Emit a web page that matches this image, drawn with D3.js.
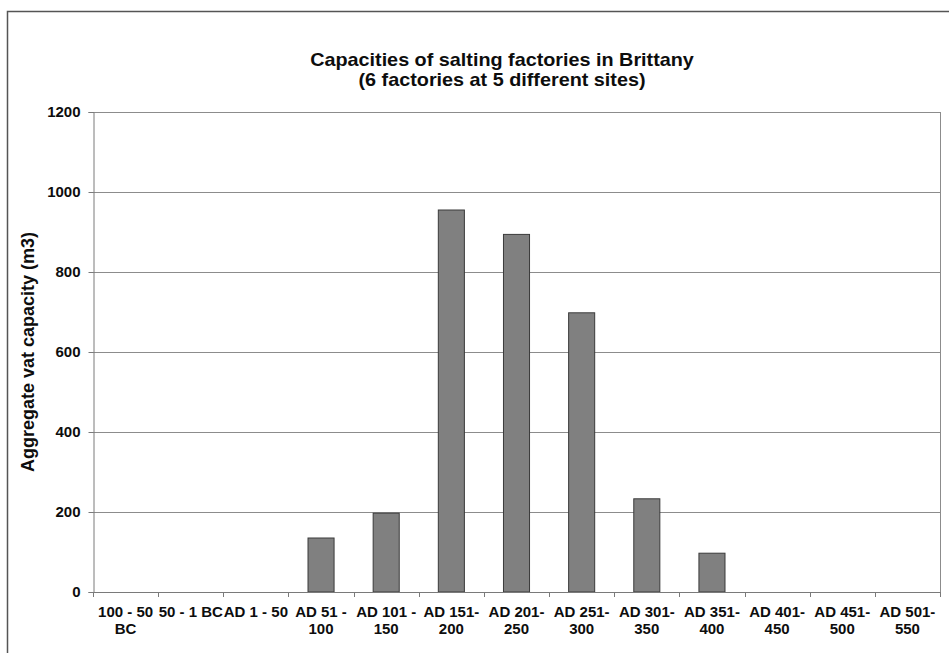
<!DOCTYPE html>
<html>
<head>
<meta charset="utf-8">
<script src="https://cdn.jsdelivr.net/npm/d3@7"></script>
<style>
  html, body { margin: 0; padding: 0; background: #fff; }
  svg { display: block; font-family: "Liberation Sans", Arial, sans-serif; }
</style>
</head>
<body>
<svg id="chart" width="949" height="653"></svg>
<script>
// Date ranges (two-line labels) and aggregate vat capacity per range
const periods = [
  ["100 - 50", "BC"], ["50 - 1 BC", ""], ["AD 1 - 50", ""],
  ["AD 51 -", "100"], ["AD 101 -", "150"], ["AD 151-", "200"],
  ["AD 201-", "250"], ["AD 251-", "300"], ["AD 301-", "350"],
  ["AD 351-", "400"], ["AD 401-", "450"], ["AD 451-", "500"],
  ["AD 501-", "550"]
];
const capacity = [0, 0, 0, 135, 197, 955, 894, 698, 233, 97, 0, 0, 0];
const yTicks = [0, 200, 400, 600, 800, 1000, 1200];
const titleLines = ["Capacities of salting factories in Brittany", "(6 factories at 5 different sites)"];
const yTitle = "Aggregate vat capacity (m3)";

const svg = d3.select("#chart");
const plot = { left: 93, right: 940, top: 112, bottom: 592 };
const ink = "#0d0d0d";

// Outer chart frame (only top and left edges fall inside the view)
svg.append("rect")
  .attr("x", 7.5).attr("y", 11.5)
  .attr("width", 960).attr("height", 660)
  .attr("fill", "#fff").attr("stroke", "#555").attr("stroke-width", 1.5);

const x = d3.scaleBand()
  .domain(d3.range(periods.length))
  .range([plot.left, plot.right])
  .paddingInner(0).paddingOuter(0);

const y = d3.scaleLinear().domain([0, 1200]).range([plot.bottom, plot.top]);

// Horizontal gridlines
svg.append("g")
  .selectAll("line")
  .data(yTicks.filter(d => d > 0))
  .join("line")
  .attr("x1", plot.left).attr("x2", plot.right)
  .attr("y1", d => Math.round(y(d)) + 0.5).attr("y2", d => Math.round(y(d)) + 0.5)
  .attr("stroke", "#8c8c8c").attr("stroke-width", 1);

// Right edge of plot area
svg.append("line")
  .attr("x1", plot.right + 0.5).attr("x2", plot.right + 0.5)
  .attr("y1", plot.top).attr("y2", plot.bottom)
  .attr("stroke", "#8c8c8c");

// Bars: width is band / 2.5 (gap width 150%)
const barW = x.bandwidth() / 2.5;
svg.append("g")
  .selectAll("rect")
  .data(capacity.map((v, i) => ({ v, i })).filter(d => d.v > 0))
  .join("rect")
  .attr("x", d => x(d.i) + (x.bandwidth() - barW) / 2)
  .attr("y", d => y(d.v))
  .attr("width", barW)
  .attr("height", d => y(0) - y(d.v))
  .attr("fill", "#808080")
  .attr("stroke", "#3a3a3a")
  .attr("stroke-width", 1);

// Y axis
const yAxis = svg.append("g")
  .attr("transform", `translate(${plot.left + 0.5},0)`)
  .call(d3.axisLeft(y).tickValues(yTicks).tickSize(5).tickPadding(8).tickFormat(d3.format("d")));
yAxis.select(".domain").attr("stroke", "#7a7a7a");
yAxis.selectAll(".tick line").attr("stroke", "#7a7a7a");
yAxis.selectAll(".tick text")
  .attr("font-size", 15).attr("font-weight", "bold").attr("fill", ink)
  .attr("font-family", "Liberation Sans, Arial, sans-serif");

// X axis with ticks at category boundaries
const boundaries = d3.range(periods.length + 1).map(i => plot.left + i * x.bandwidth());
svg.append("line")
  .attr("x1", plot.left).attr("x2", plot.right + 1)
  .attr("y1", plot.bottom + 0.5).attr("y2", plot.bottom + 0.5)
  .attr("stroke", "#7a7a7a");
svg.append("g")
  .selectAll("line")
  .data(boundaries)
  .join("line")
  .attr("x1", d => Math.round(d) + 0.5).attr("x2", d => Math.round(d) + 0.5)
  .attr("y1", plot.bottom).attr("y2", plot.bottom + 5)
  .attr("stroke", "#7a7a7a");

const xl = svg.append("g")
  .selectAll("text")
  .data(periods.map((p, i) => ({ p, i })))
  .join("text")
  .attr("x", d => x(d.i) + x.bandwidth() / 2)
  .attr("y", 617)
  .attr("text-anchor", "middle")
  .attr("font-size", 15).attr("font-weight", "bold").attr("fill", ink);
xl.append("tspan").attr("x", d => x(d.i) + x.bandwidth() / 2).text(d => d.p[0]);
xl.append("tspan").attr("x", d => x(d.i) + x.bandwidth() / 2).attr("dy", 17).text(d => d.p[1]);

// Y axis title
svg.append("text")
  .attr("transform", `translate(34,${(plot.top + plot.bottom) / 2}) rotate(-90)`)
  .attr("text-anchor", "middle")
  .attr("font-size", 18).attr("font-weight", "bold").attr("fill", ink)
  .text(yTitle);

// Chart title
const titleX = 502;
svg.append("g")
  .attr("transform", `translate(${titleX},0) scale(1.1,1)`)
  .selectAll("text")
  .data(titleLines)
  .join("text")
  .attr("x", 0)
  .attr("y", (d, i) => 66 + i * 20)
  .attr("text-anchor", "middle")
  .attr("font-size", 18).attr("font-weight", "bold").attr("fill", ink)
  .text(d => d);
</script>
</body>
</html>
